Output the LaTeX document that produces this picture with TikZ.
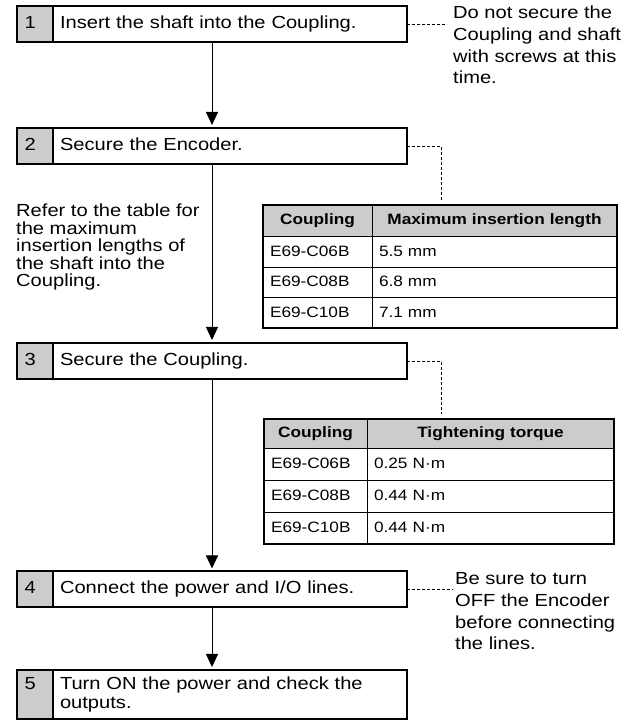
\documentclass[tikz,border=0pt]{standalone}
\usepackage{fontspec}
\setmainfont{Liberation Sans}[FakeStretch=1.15]
\usetikzlibrary{arrows.meta,positioning,calc}

\begin{document}
\begin{tikzpicture}[x=1pt, y=1pt,
  numcell/.style={draw, line width=2pt, fill=gray!40, outer sep=0pt, inner xsep=7.5pt,
    inner ysep=0pt, text width=21pt, align=left, minimum height=36pt,
    text height=12.5pt, text depth=4pt, font=\fontsize{17.5}{19}\selectfont},
  stepcell/.style={draw, line width=2pt, outer sep=0pt, inner xsep=7pt, inner ysep=0pt,
    text width=340pt, align=left, minimum height=36pt,
    text height=12.5pt, text depth=4pt, font=\fontsize{17.5}{19}\selectfont},
  flow/.style={-{Triangle[width=12pt,length=13pt]}, line width=1pt, shorten >=3pt},
  leader/.style={line width=0.8pt, dash pattern=on 3pt off 2pt},
  note/.style={align=left, inner sep=0pt, anchor=north west, font=\fontsize{17.5}{21.7}\selectfont},
  cell/.style={draw, line width=1pt, outer sep=0pt, inner xsep=7pt, inner ysep=0pt,
    align=left, anchor=north west, text height=11pt, text depth=3pt,
    font=\fontsize{15}{17}\selectfont},
  headcell/.style={cell, fill=gray!40, align=center, font=\fontsize{15}{17}\selectfont\bfseries},
  frame/.style={line width=2pt}]
\useasboundingbox (0,0) rectangle (633,721);

% ---- the steps: grey number cell + text cell ------------------------------
\foreach \i/\y/\txt in {1/697/{Insert the shaft into the Coupling.},
                        2/575/{Secure the Encoder.},
                        3/360/{Secure the Coupling.},
                        4/131.5/{Connect the power and I/O lines.}}{
  \node[numcell] (n\i) at (35,\y) {\i};
  \node[stepcell, right=0pt of n\i] (s\i) {\txt};
}
\node[numcell, minimum height=49pt, text depth=23pt] (n5) at (35,26.5) {5\\\vphantom{p}};
\node[stepcell, minimum height=49pt, text depth=23pt, right=0pt of n5] (s5)
  {Turn ON the power and check the\\outputs.};

\foreach \a/\b in {1/2,2/3,3/4,4/5}
  \draw[flow] ($(n\a.south west)!.5!(s\a.south east)$) -- ($(n\b.north west)!.5!(s\b.north east)$);

% ---- side notes ----------------------------------------------------------
\node[note] (note1) at (453,715)
  {Do not secure the\\Coupling and shaft\\with screws at this\\time.};
\draw[leader] (s1.east) -- ([xshift=-6pt]s1.east -| note1.west);

\node[note, font=\fontsize{17.5}{17.5}\selectfont] (hint) at (16,517)
  {Refer to the table for\\the maximum\\insertion lengths of\\the shaft into the\\Coupling.};

\node[note] (note4) at (455,148.5)
  {Be sure to turn\\OFF the Encoder\\before connecting\\the lines.};
\draw[leader] (s4.east) -- ([xshift=-2pt]s4.east -| note4.west);

% ---- table: maximum insertion length -------------------------------------
\node[headcell, text width=95pt, minimum height=32pt] (lc0) at (263,516) {Coupling};
\node[headcell, text width=231pt, minimum height=32pt] (lv0) at (372,516) {Maximum insertion length};
\foreach \mdl/\val [count=\k] in {E69-C06B/5.5 mm, E69-C08B/6.8 mm, E69-C10B/7.1 mm}{
  \pgfmathtruncatemacro\j{\k-1}
  \node[cell, text width=95pt, minimum height=30.5pt] (lc\k) at (lc\j.south west) {\mdl};
  \node[cell, text width=231pt, minimum height=30.5pt] (lv\k) at (lv\j.south west) {\val};
}
\draw[frame] (lc0.north west) rectangle (lv3.south east);
\draw[leader] (s2.east) -| ([xshift=-53.5pt, yshift=5pt]lv0.north);

% ---- table: tightening torque --------------------------------------------
\node[headcell, text width=89pt, minimum height=30pt] (tc0) at (264,302) {Coupling};
\node[headcell, text width=233pt, minimum height=30pt] (tv0) at (367,302) {Tightening torque};
\foreach \mdl/\val [count=\k] in {E69-C06B/0.25 N·m, E69-C08B/0.44 N·m, E69-C10B/0.44 N·m}{
  \pgfmathtruncatemacro\j{\k-1}
  \node[cell, text width=89pt, minimum height=31.7pt] (tc\k) at (tc\j.south west) {\mdl};
  \node[cell, text width=233pt, minimum height=31.7pt] (tv\k) at (tv\j.south west) {\val};
}
\draw[frame] (tc0.north west) rectangle (tv3.south east);
\draw[leader] (s3.east) -| ([xshift=-49.5pt, yshift=5pt]tv0.north);
\end{tikzpicture}
\end{document}
